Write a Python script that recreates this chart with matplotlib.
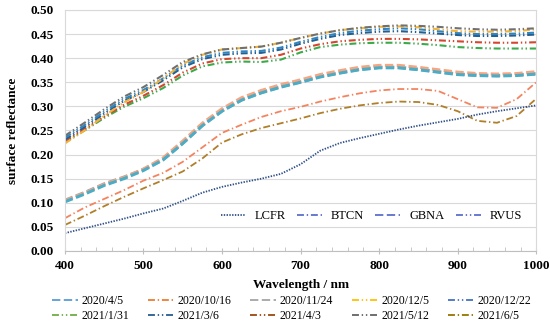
import numpy as np
import matplotlib
matplotlib.use("Agg")
import matplotlib.pyplot as plt
from matplotlib.lines import Line2D

plt.rcParams['font.family'] = ['Liberation Serif', 'DejaVu Serif']
plt.rcParams['lines.scale_dashes'] = False

# ---- data ----
wavelength = [400, 425, 450, 475, 500, 525, 550, 575, 600, 625, 650, 675, 700,
              725, 750, 775, 800, 825, 850, 875, 900, 925, 950, 975, 1000]

# RVUS (dash-dot-dot)
rvus_0512 = [.239, .266, .294, .320, .340, .365, .392, .408, .418, .421, .424, .432, .442,
             .451, .458, .463, .466, .468, .467, .465, .462, .460, .459, .460, .462]
rvus_1205 = [.223, .250, .280, .308, .330, .358, .388, .407, .418, .421, .424, .432, .442,
             .451, .458, .462, .465, .466, .464, .460, .456, .455, .455, .456, .460]
rvus_1222 = [.235, .261, .289, .315, .334, .358, .385, .402, .411, .414, .415, .422, .434,
             .444, .452, .457, .460, .462, .460, .456, .452, .450, .450, .451, .453]
rvus_0306 = [.231, .257, .285, .311, .330, .354, .381, .398, .407, .410, .411, .418, .430,
             .440, .448, .452, .455, .456, .454, .451, .448, .446, .446, .447, .449]
rvus_0403 = [.228, .253, .279, .303, .322, .344, .370, .389, .398, .400, .400, .407, .420,
             .429, .435, .438, .440, .440, .439, .437, .435, .433, .432, .432, .433]
rvus_0131 = [.226, .250, .276, .299, .317, .338, .364, .383, .391, .393, .392, .397, .412,
             .423, .428, .431, .432, .432, .430, .427, .423, .421, .420, .420, .420]

# GBNA (long dash)
gbna_a = [.104, .120, .138, .152, .170, .193, .228, .265, .295, .318, .333, .345, .355,
          .366, .374, .381, .385, .385, .381, .376, .371, .368, .367, .368, .372]
gbna_0405 = [.102, .118, .136, .150, .167, .189, .223, .260, .290, .313, .328, .340, .350,
             .361, .369, .376, .380, .380, .376, .371, .366, .364, .363, .364, .367]
gbna_1124 = [.105, .121, .139, .153, .169, .190, .224, .261, .291, .314, .329, .341, .351,
             .362, .370, .377, .381, .381, .377, .372, .367, .365, .364, .365, .368]

# BTCN (dash-dot)
btcn_1016 = [.068, .090, .108, .126, .146, .162, .185, .215, .245, .262, .278, .290, .299,
             .310, .319, .327, .333, .336, .336, .332, .315, .298, .297, .315, .350]
btcn_0605 = [.054, .073, .093, .112, .130, .147, .165, .192, .225, .242, .255, .265, .275,
             .286, .295, .302, .307, .310, .309, .303, .290, .270, .266, .280, .316]

# LCFR (dotted)
lcfr = [.037, .047, .057, .067, .078, .088, .104, .121, .133, .142, .150, .160, .180,
        .208, .224, .234, .243, .252, .260, .267, .274, .283, .290, .296, .302]

date_labels = ['2020/4/5', '2020/10/16', '2020/11/24', '2020/12/5', '2020/12/22',
               '2021/1/31', '2021/3/6', '2021/4/3', '2021/5/12', '2021/6/5']
site_labels = ['LCFR', 'BTCN', 'GBNA', 'RVUS']

# ---- styles ----
DDOT = (0, (5, 2, 1, 2, 1, 2))
DDASH = (0, (5, 2, 1, 2))
LDASH = (0, (6, 2.5))
DOT = (0, (1, 1))

fig = plt.figure(figsize=(5.5, 3.32), dpi=100)
ax = fig.add_axes([0.118, 0.244, 0.857, 0.726])

# GBNA
ax.plot(wavelength, gbna_1124, color='#A5A5A5', lw=2.4, linestyle=LDASH)
ax.plot(wavelength, gbna_a, color='#F4A582', lw=2.2, linestyle=LDASH)
ax.plot(wavelength, gbna_0405, color='#4BACC6', lw=2.2, linestyle=LDASH)

# BTCN
ax.plot(wavelength, btcn_1016, color='#F4845F', lw=1.3, linestyle=DDASH)
ax.plot(wavelength, btcn_0605, color='#B07F2A', lw=1.3, linestyle=DDASH)

# LCFR
ax.plot(wavelength, lcfr, color='#2F4F8A', lw=1.3, linestyle=DOT)

# RVUS
ax.plot(wavelength, rvus_0131, color='#3DAA4A', lw=1.5, linestyle=DDOT)
ax.plot(wavelength, rvus_0403, color='#D3472F', lw=1.5, linestyle=DDOT)
ax.plot(wavelength, rvus_0306, color='#255E91', lw=1.5, linestyle=DDOT)
ax.plot(wavelength, rvus_1222, color='#2E86C1', lw=1.5, linestyle=DDOT)
ax.plot(wavelength, rvus_1205, color='#F2B33D', lw=1.5, linestyle=DDOT)
ax.plot(wavelength, rvus_0512, color='#707070', lw=1.5, linestyle=DDOT)

# ---- axes ----
ax.set_xlim(400, 1000)
ax.set_ylim(0, 0.5)
ax.set_xticks(np.arange(400, 1001, 100))
ax.set_xticks(np.arange(400, 1001, 20), minor=True)
ax.set_yticks(np.arange(0, 0.501, 0.05))
ax.set_yticklabels([f'{v:.2f}' for v in np.arange(0, 0.501, 0.05)])
ax.grid(axis='y', color='#D9D9D9', lw=0.8)
ax.set_axisbelow(True)
for s in ['left', 'right', 'top']:
    ax.spines[s].set_color('#D9D9D9')
    ax.spines[s].set_linewidth(0.8)
ax.spines['bottom'].set_color('#BFBFBF')
ax.tick_params(axis='y', length=0, pad=8, labelsize=9.5)
ax.tick_params(axis='x', which='major', direction='inout', length=5, color='#BFBFBF',
               labelsize=9.5, pad=4)
ax.tick_params(axis='x', which='minor', direction='in', length=3, color='#BFBFBF')
for lbl in ax.get_xticklabels() + ax.get_yticklabels():
    lbl.set_fontweight('bold')
ax.set_xlabel('Wavelength / nm', fontsize=9.5, fontweight='bold', labelpad=5)
ax.set_ylabel('surface reflectance', fontsize=9.5, fontweight='bold', labelpad=8)

# site legend inside
site_color = '#5A6FCB'
site_handles = [
    Line2D([], [], color='#2F4F8A', lw=1.3, linestyle=DOT),
    Line2D([], [], color=site_color, lw=1.3, linestyle=DDASH),
    Line2D([], [], color=site_color, lw=1.3, linestyle=LDASH),
    Line2D([], [], color=site_color, lw=1.3, linestyle=DDOT),
]
ax.legend(site_handles, site_labels, loc='center', bbox_to_anchor=(0.65, 0.145),
          ncol=4, frameon=False, fontsize=9, handlelength=2.0, handletextpad=0.7,
          columnspacing=0.9)

# date legend below (row-wise order)
date_colors = ['#5B9BD5', '#ED7D31', '#A5A5A5', '#FFC000', '#4472C4',
               '#70AD47', '#255E91', '#9E480E', '#636363', '#997300']
date_styles = [LDASH, DDASH, LDASH, DDOT, DDOT, DDOT, DDOT, DDOT, DDOT, DDASH]
date_handles = [Line2D([], [], color=c, lw=1.3, linestyle=s)
                for c, s in zip(date_colors, date_styles)]
order = [0, 5, 1, 6, 2, 7, 3, 8, 4, 9]
fig.legend([date_handles[i] for i in order], [date_labels[i] for i in order],
           loc='center', bbox_to_anchor=(0.53, 0.07),
           ncol=5, frameon=False, fontsize=8.5, handlelength=2.2, handletextpad=0.3,
           columnspacing=1.6, labelspacing=0.25)

fig.savefig('out.png', dpi=100, facecolor='white')
